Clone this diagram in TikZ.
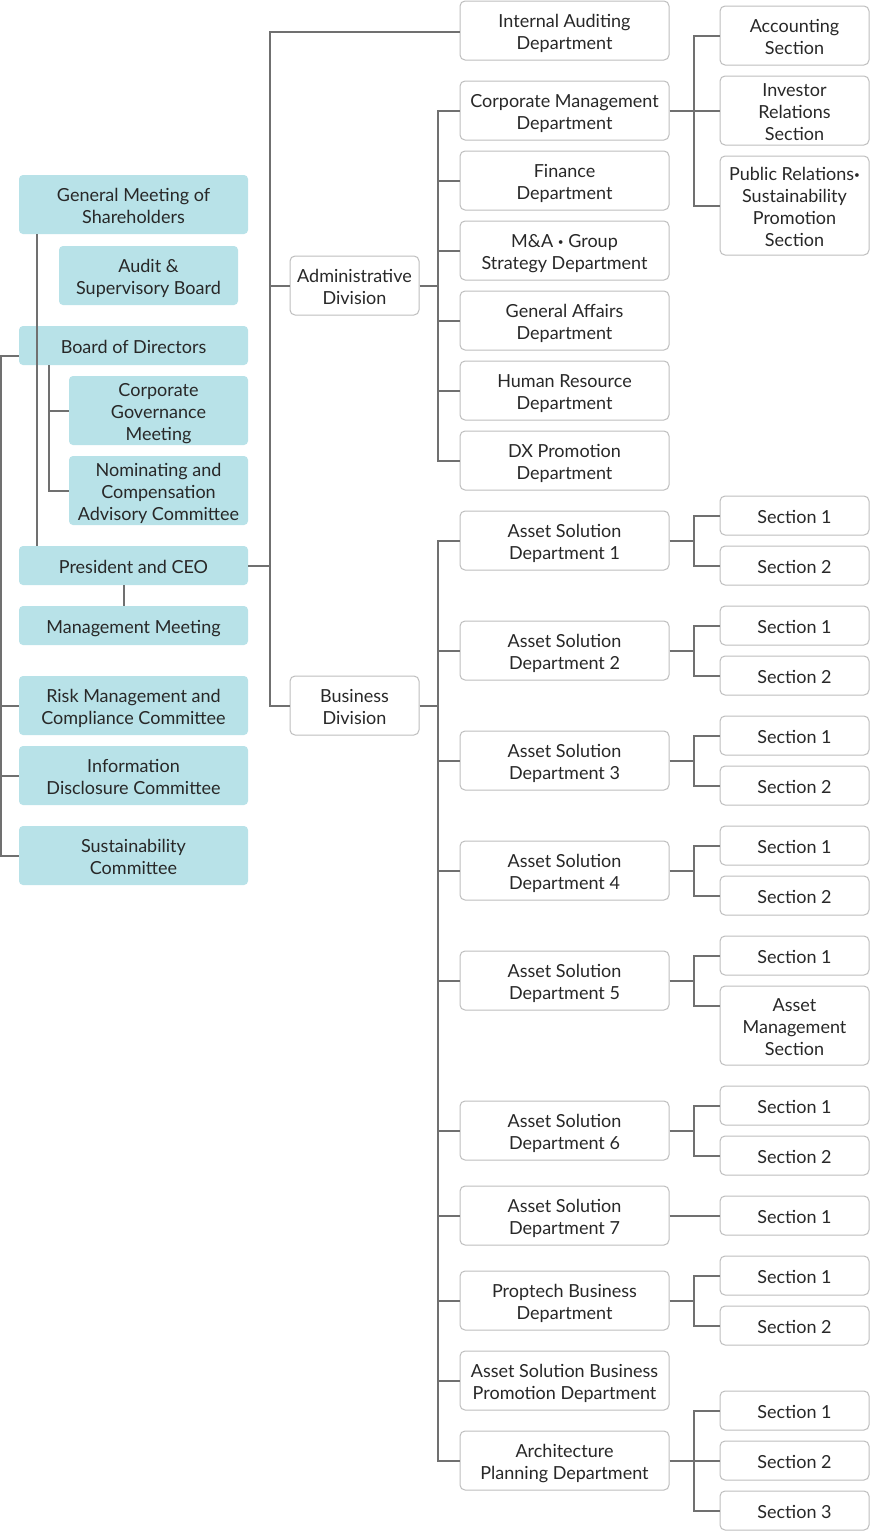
\documentclass[tikz,border=0pt]{standalone}
\usepackage{fontspec}
\setmainfont{Lato}
\usetikzlibrary{calc}
\definecolor{tealc}{RGB}{184,226,232}
\definecolor{bordc}{RGB}{190,190,190}
\definecolor{linec}{RGB}{112,112,112}
\definecolor{txtc}{RGB}{40,40,40}
\newcommand{\smbul}{\raisebox{2pt}{\fontsize{10pt}{10pt}\selectfont•}}
\newcommand{\fl}{\rule{0pt}{19pt}}
\newcommand{\bx}[4]{\node[#1] (#2) at (#3) {\fl #4};}
\tikzset{
  base/.style={inner sep=0pt, align=center, text=txtc, font=\fontsize{18pt}{22pt}\selectfont,
    execute at end node={\rule[-3pt]{0pt}{0pt}}},
  tbox/.style={base, fill=tealc, rounded corners=4pt},
  wbox/.style={base, draw=bordc, line width=1pt, fill=white, rounded corners=5pt},
  wd/.style={minimum width=#1pt},
  ht/.style={minimum height=#1pt},
  dept/.style={wbox, wd=209, ht=59},
  sec/.style={wbox, wd=149, ht=39},
  conn/.style={draw=linec, line width=2pt}
}
\begin{document}
\begin{tikzpicture}[x=1pt,y=-1pt]
\useasboundingbox[fill=white] (0,0) rectangle (870,1531);
% left teal boxes
\bx{tbox, wd=229, ht=59}{gms}{133.5,204.5}{General Meeting of\\Shareholders}
\bx{tbox, wd=179, ht=59}{asb}{148.5,275.5}{Audit \&\\Supervisory Board}
\bx{tbox, wd=229, ht=39}{bod}{133.5,345.5}{Board of Directors}
\bx{tbox, wd=179, ht=69}{cgm}{158.5,410.5}{Corporate\\Governance\\Meeting}
\bx{tbox, wd=179, ht=69}{ncac}{158.5,490.5}{Nominating and\\Compensation\\Advisory Committee}
\bx{tbox, wd=229, ht=39}{pres}{133.5,565.5}{President and CEO}
\bx{tbox, wd=229, ht=39}{mm}{133.5,625.5}{Management Meeting}
\bx{tbox, wd=229, ht=59}{risk}{133.5,705.5}{Risk Management and\\Compliance Committee}
\bx{tbox, wd=229, ht=59}{info}{133.5,775.5}{Information\\Disclosure Committee}
\bx{tbox, wd=229, ht=59}{sus}{133.5,855.5}{Sustainability\\Committee}
% divisions
\bx{wbox, wd=129, ht=59}{adm}{354.5,285.5}{Administrative\\Division}
\bx{wbox, wd=129, ht=59}{bus}{354.5,705.5}{Business\\Division}
% departments
\bx{dept}{ia}{564.5,30.5}{Internal Auditing\\Department}
\bx{dept}{cm}{564.5,110.5}{Corporate Management\\Department}
\bx{dept}{fin}{564.5,180.5}{Finance\\Department}
\bx{dept}{ma}{564.5,250.5}{M\&A \smbul{} Group\\Strategy Department}
\bx{dept}{ga}{564.5,320.5}{General Affairs\\Department}
\bx{dept}{hr}{564.5,390.5}{Human Resource\\Department}
\bx{dept}{dx}{564.5,460.5}{DX Promotion\\Department}
\bx{dept}{as1}{564.5,540.5}{Asset Solution\\Department 1}
\bx{dept}{as2}{564.5,650.5}{Asset Solution\\Department 2}
\bx{dept}{as3}{564.5,760.5}{Asset Solution\\Department 3}
\bx{dept}{as4}{564.5,870.5}{Asset Solution\\Department 4}
\bx{dept}{as5}{564.5,980.5}{Asset Solution\\Department 5}
\bx{dept}{as6}{564.5,1130.5}{Asset Solution\\Department 6}
\bx{dept}{as7}{564.5,1215.5}{Asset Solution\\Department 7}
\bx{dept}{ptb}{564.5,1300.5}{Proptech Business\\Department}
\bx{dept}{asbp}{564.5,1380.5}{Asset Solution Business\\Promotion Department}
\bx{dept}{arch}{564.5,1460.5}{Architecture\\Planning Department}
% sections
\bx{sec, ht=59}{acc}{794.5,35.5}{Accounting\\Section}
\bx{sec, ht=69}{ir}{794.5,110.5}{Investor\\Relations\\Section}
\bx{sec, ht=99}{pr}{794.5,205.5}{Public Relations\smbul\\Sustainability\\Promotion\\Section}
\bx{sec}{a1s1}{794.5,515.5}{Section 1}
\bx{sec}{a1s2}{794.5,565.5}{Section 2}
\bx{sec}{a2s1}{794.5,625.5}{Section 1}
\bx{sec}{a2s2}{794.5,675.5}{Section 2}
\bx{sec}{a3s1}{794.5,735.5}{Section 1}
\bx{sec}{a3s2}{794.5,785.5}{Section 2}
\bx{sec}{a4s1}{794.5,845.5}{Section 1}
\bx{sec}{a4s2}{794.5,895.5}{Section 2}
\bx{sec}{a5s1}{794.5,955.5}{Section 1}
\bx{sec, ht=79}{a5am}{794.5,1025.5}{Asset\\Management\\Section}
\bx{sec}{a6s1}{794.5,1105.5}{Section 1}
\bx{sec}{a6s2}{794.5,1155.5}{Section 2}
\bx{sec}{a7s1}{794.5,1215.5}{Section 1}
\bx{sec}{pts1}{794.5,1275.5}{Section 1}
\bx{sec}{pts2}{794.5,1325.5}{Section 2}
\bx{sec}{ars1}{794.5,1410.5}{Section 1}
\bx{sec}{ars2}{794.5,1460.5}{Section 2}
\bx{sec}{ars3}{794.5,1510.5}{Section 3}
% ---------- connectors ----------
% left column
\draw[conn] ($(gms.south west)+(18,0)$) -- ($(pres.north west)+(18,0)$);
\draw[conn] ($(bod.south west)+(30,0)$) |- (cgm.west);
\draw[conn] ($(bod.south west)+(30,0)$) |- (ncac.west);
\draw[conn] ($(pres.south)+(-9.5,0)$) -- ($(mm.north)+(-9.5,0)$);
\coordinate (fl) at (1,855.5);
\draw[conn] ($(bod.west)+(0,10)$) -| (fl) -- (sus.west);
\draw[conn] (risk.west) -- (risk.west -| fl);
\draw[conn] (info.west) -- (info.west -| fl);
% president to divisions
\coordinate (jt) at (270,565.5);
\draw[conn] (pres.east) -- (jt);
\draw[conn] ($(ia.west)+(0,1.5)$) -| (jt) |- (bus.west);
\draw[conn] (adm.west) -- (adm.west -| jt);
% administrative division
\coordinate (ja) at (438,285.5);
\draw[conn] (adm.east) -- (ja);
\draw[conn] (cm.west) -| (ja) |- (dx.west);
\foreach \n in {fin,ma,ga,hr} \draw[conn] (\n.west) -- (\n.west -| ja);
% business division
\coordinate (jb) at (438,705.5);
\draw[conn] (bus.east) -- (jb);
\draw[conn] (as1.west) -| (jb) |- (arch.west);
\foreach \n in {as2,as3,as4,as5,as6,as7,ptb,asbp} \draw[conn] (\n.west) -- (\n.west -| jb);
% corporate management sections
\coordinate (jc) at (694,110.5);
\draw[conn] (cm.east) -- (ir.west);
\draw[conn] (acc.west) -| (jc) |- (pr.west);
% asset solution sections
\foreach \d/\a/\b in {as1/a1s1/a1s2, as2/a2s1/a2s2, as3/a3s1/a3s2, as4/a4s1/a4s2, as6/a6s1/a6s2, ptb/pts1/pts2}{
  \coordinate (j\d) at (694,0 |- \d.east);
  \draw[conn] (\d.east) -- (j\d);
  \draw[conn] (\a.west) -| (j\d) |- (\b.west);
}
\coordinate (jas5) at (694,0 |- as5.east);
\draw[conn] (as5.east) -- (jas5);
\draw[conn] (a5s1.west) -| (jas5) |- ($(a5am.north west)+(0,20)$);
\draw[conn] (as7.east) -- (a7s1.west);
\coordinate (jar) at (694,0 |- arch.east);
\draw[conn] (arch.east) -- (ars2.west);
\draw[conn] (ars1.west) -| (jar) |- (ars3.west);
\end{tikzpicture}
\end{document}
